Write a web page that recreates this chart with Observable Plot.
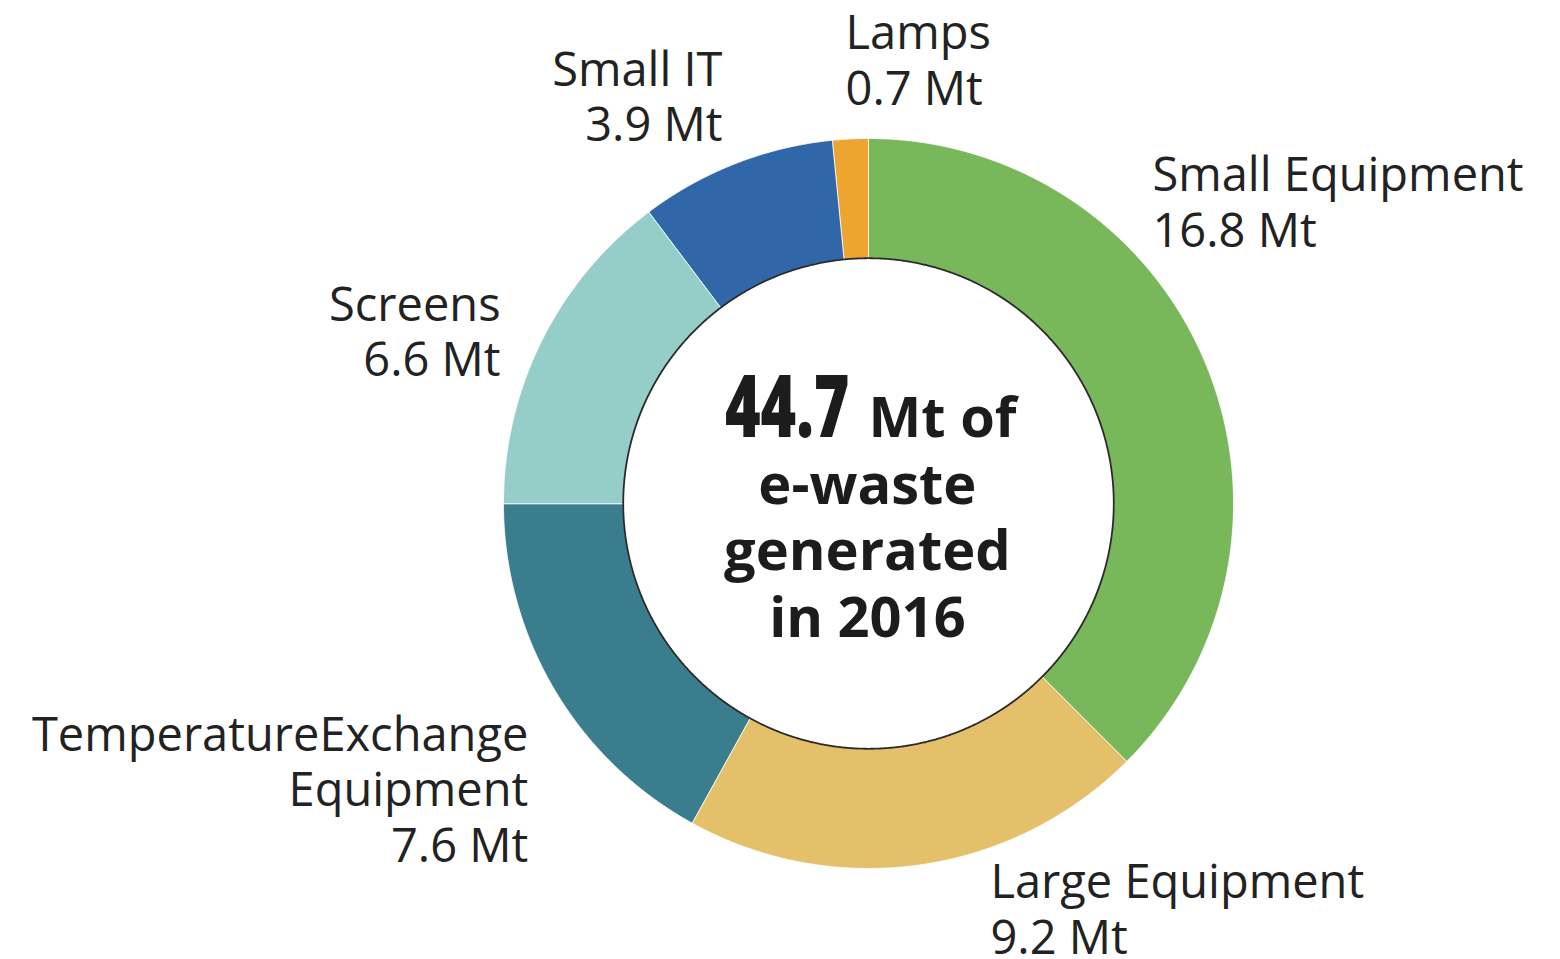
<!DOCTYPE html>
<html>
<head>
<meta charset="utf-8">
<script src="https://cdn.jsdelivr.net/npm/d3@7"></script>
<script src="https://cdn.jsdelivr.net/npm/@observablehq/plot@0.6"></script>
<style>
  html, body { margin: 0; padding: 0; background: #fff; }
  #chart svg { display: block; }
</style>
</head>
<body>
<div id="chart"></div>
<script>
// ---- data ----
const categories = ["Small Equipment", "Large Equipment", "Temperature Exchange Equipment", "Screens", "Small IT", "Lamps"];
const values = [16.8, 9.2, 7.6, 6.6, 3.9, 0.7];
const labelNames = ["Small Equipment", "Large Equipment", "TemperatureExchange\nEquipment", "Screens", "Small IT", "Lamps"];
const totalValue = 44.7;
const centerLines = ["e-waste", "generated", "in 2016"];

// ---- styling / layout ----
const colors = ["#78b75a", "#e5c06a", "#3a7e8e", "#95cdc8", "#3067a9", "#eea52f"];
const W = 1560, H = 959, CX = 868, CY = 503, R = 365;
const innerR = 0.672;
// label anchor positions in unit (radius) coordinates, and text-anchor
const labelLayout = [
  {x: 0.778, y: 0.704, anchor: "start"},
  {x: 0.334, y: -1.233, anchor: "start"},
  {x: -0.932, y: -0.981, anchor: "end"},
  {x: -1.008, y: 0.348, anchor: "end"},
  {x: -0.400, y: 0.992, anchor: "end"},
  {x: -0.063, y: 1.093, anchor: "start"}
];

const slices = categories.map((c, i) => ({name: c, value: values[i], label: labelNames[i] + "\n" + values[i] + " Mt"}));
const arcs = d3.pie().sort(null).value(d => d.value)(slices);

// polygon outline of each ring segment (angles clockwise from 12 o'clock)
const pts = [];
const step = Math.PI / 720;
for (const a of arcs) {
  const n = Math.max(2, Math.ceil((a.endAngle - a.startAngle) / step));
  for (let k = 0; k <= n; k++) {
    const t = a.startAngle + (a.endAngle - a.startAngle) * k / n;
    pts.push({name: a.data.name, x: Math.sin(t), y: Math.cos(t)});
  }
  for (let k = n; k >= 0; k--) {
    const t = a.startAngle + (a.endAngle - a.startAngle) * k / n;
    pts.push({name: a.data.name, x: innerR * Math.sin(t), y: innerR * Math.cos(t)});
  }
}
const innerCircle = d3.range(0, 1441).map(k => ({x: innerR * Math.sin(k * step), y: innerR * Math.cos(k * step)}));

const labels = slices.map((s, i) => ({...s, ...labelLayout[i]}));

const chart = Plot.plot({
  width: W,
  height: H,
  margin: 0,
  x: {domain: [-CX / R, (W - CX) / R], range: [0, W], axis: null},
  y: {domain: [-(H - CY) / R, CY / R], range: [H, 0], axis: null},
  color: {domain: categories, range: colors},
  style: {fontFamily: "'Open Sans', sans-serif", background: "#fff"},
  marks: [
    Plot.line(pts, {x: "x", y: "y", z: "name", fill: "name", stroke: "white", strokeWidth: 0.8, curve: "linear-closed"}),
    Plot.line(innerCircle, {x: "x", y: "y", stroke: "#2a2a2a", strokeWidth: 1.8, curve: "linear"}),
    Plot.text(labels.filter(d => d.anchor === "start"), {
      x: "x", y: "y", text: "label", textAnchor: "start", lineAnchor: "bottom",
      fontSize: 47, lineHeight: 1.18, fill: "#222", fontFamily: "'Open Sans', sans-serif"
    }),
    Plot.text(labels.filter(d => d.anchor === "end"), {
      x: "x", y: "y", text: "label", textAnchor: "end", lineAnchor: "bottom",
      fontSize: 47, lineHeight: 1.18, fill: "#222", fontFamily: "'Open Sans', sans-serif"
    }),
    // center text
    Plot.text([String(totalValue)], {
      x: [-0.052], y: [0.181], text: d => d, textAnchor: "end", lineAnchor: "bottom",
      fontSize: 87, fontWeight: 800, fill: "#1c1c1c",
      fontFamily: "'Open Sans', sans-serif", letterSpacing: "-4px"
    }),
    Plot.text(["Mt of"], {
      x: [0.0], y: [0.181], text: d => d, textAnchor: "start", lineAnchor: "bottom",
      fontSize: 56, fontWeight: "bold", fill: "#1c1c1c", fontFamily: "'Open Sans', sans-serif"
    }),
    Plot.text([centerLines.join("\n")], {
      x: [-0.003], y: [-0.367], text: d => d, textAnchor: "middle", lineAnchor: "bottom",
      fontSize: 56, lineHeight: 1.196, fontWeight: "bold", fill: "#1c1c1c", fontFamily: "'Open Sans', sans-serif"
    })
  ]
});
// condense the big total figure horizontally
d3.select(chart).selectAll("text").filter(function () { return this.textContent === String(totalValue); })
  .each(function () {
    const t = this.getAttribute("transform") || "";
    this.setAttribute("transform", t + " scale(0.7,1)");
  });
document.getElementById("chart").appendChild(chart);
</script>
</body>
</html>
